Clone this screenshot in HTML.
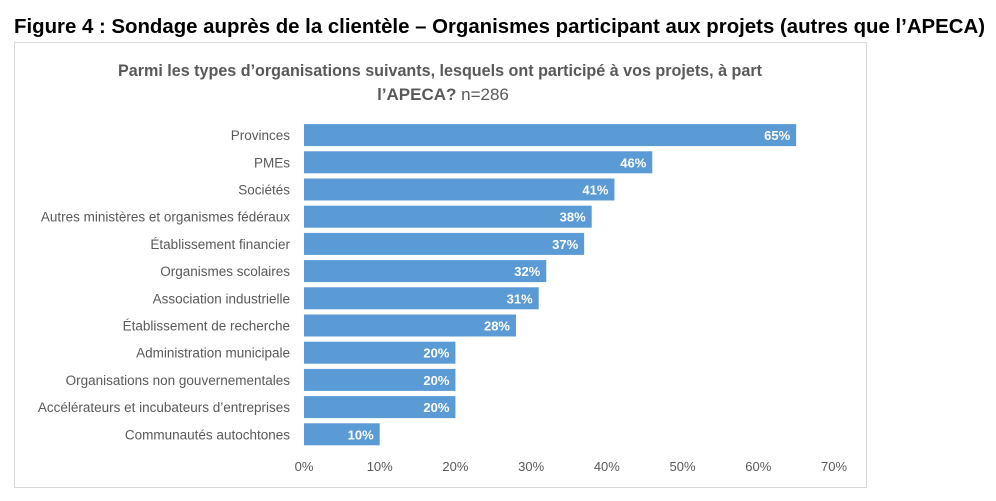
<!DOCTYPE html>
<html><head><meta charset="utf-8"><style>
body{margin:0;background:#fff;width:996px;height:501px;overflow:hidden}
svg{display:block;font-family:"Liberation Sans",sans-serif}
</style></head><body>
<svg id="c" width="996" height="501">
<text x="14" y="33" font-size="20" font-weight="bold" fill="#000" textLength="971" lengthAdjust="spacingAndGlyphs">Figure 4 : Sondage auprès de la clientèle – Organismes participant aux projets (autres que l’APECA)</text>
<rect x="14.5" y="42.5" width="852" height="445" fill="#fff" stroke="#d9d9d9"/>
<text x="440" y="76" font-size="17" font-weight="bold" fill="#595959" text-anchor="middle" textLength="644" lengthAdjust="spacingAndGlyphs">Parmi les types d’organisations suivants, lesquels ont participé à vos projets, à part</text>
<text x="443" y="100" font-size="17" fill="#595959" text-anchor="middle"><tspan font-weight="bold">l’APECA?</tspan>   n=286</text>
<g id="bars"></g>
</svg>
<script>
const categories=["Provinces","PMEs","Sociétés","Autres ministères et organismes fédéraux","Établissement financier","Organismes scolaires","Association industrielle","Établissement de recherche","Administration municipale","Organisations non gouvernementales","Accélérateurs et incubateurs d’entreprises","Communautés autochtones"];
const values=[65,46,41,38,37,32,31,28,20,20,20,10];
const ticks=[0,10,20,30,40,50,60,70];
const x0=304,x1=834,xmax=70,yTop=121.5,band=27.2,barH=22;
const xs=v=>x0+(v/xmax)*(x1-x0);
const yc=i=>yTop+band*i+band/2;
const g=document.getElementById('bars');
const NS="http://www.w3.org/2000/svg";
function mk(t,a){const e=document.createElementNS(NS,t);for(const k in a)e.setAttribute(k,a[k]);return e;}
categories.forEach((c,i)=>{
 const r=mk('rect',{x:x0,y:yc(i)-barH/2,width:xs(values[i])-x0,height:barH,fill:'#5b9bd5'});
 
 
 g.appendChild(r);
 const l=mk('text',{x:xs(values[i])-6,y:yc(i)+5,'font-size':13,'font-weight':'bold',fill:'#fff','text-anchor':'end'});
 l.textContent=values[i]+'%';
 
 
 g.appendChild(l);
 const t=mk('text',{x:290,y:yc(i)+5,'font-size':13.5,fill:'#595959','text-anchor':'end'});
 t.textContent=c;
 
 
 g.appendChild(t);
});
ticks.forEach(v=>{
 const t=mk('text',{x:xs(v),y:471,'font-size':13,fill:'#595959','text-anchor':'middle'});
 t.textContent=v+'%';
 
 
 g.appendChild(t);
});
</script>
</body></html>
